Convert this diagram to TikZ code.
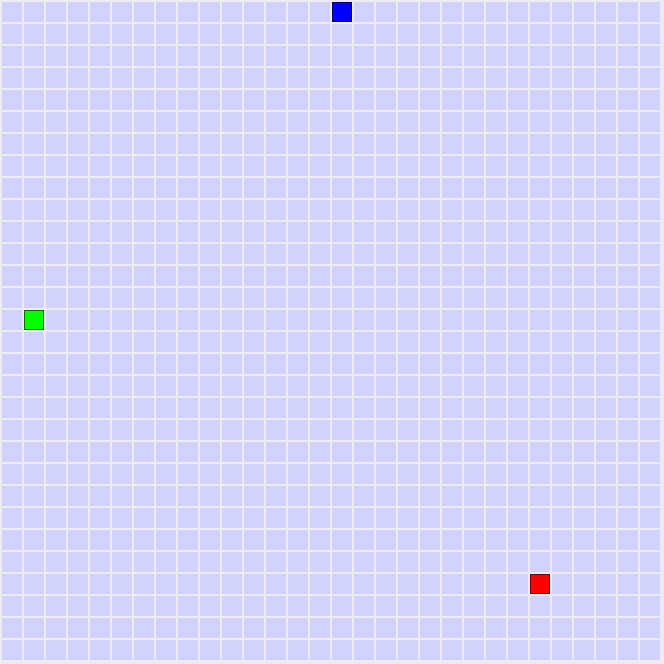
\documentclass[tikz,border=0pt]{standalone}
\definecolor{bggray}{RGB}{236,236,242}
\definecolor{cellblue}{RGB}{210,210,255}
\definecolor{bluedark}{RGB}{0,0,110}
\definecolor{greendark}{RGB}{0,110,0}
\definecolor{reddark}{RGB}{120,0,0}
\tikzset{
  cell/.style={fill=cellblue,draw=none},
  marker/.style={line width=1.2pt}
}
\begin{document}
\begin{tikzpicture}[x=1pt,y=-1pt]
\fill[bggray] (0,0) rectangle (664,664);
\useasboundingbox (0,0) rectangle (664,664);
\foreach \i in {0,...,29}{
  \foreach \j in {0,...,29}{
    \fill[cell] ({22*\i+2},{22*\j+2}) rectangle ++(20,20);
  }
}
\filldraw[marker,fill=blue,draw=bluedark] ({22*15+2.6},{22*0+2.6}) rectangle ++(18.8,18.8);
\filldraw[marker,fill=green,draw=greendark] ({22*1+2.6},{22*14+2.6}) rectangle ++(18.8,18.8);
\filldraw[marker,fill=red,draw=reddark] ({22*24+2.6},{22*26+2.6}) rectangle ++(18.8,18.8);
\end{tikzpicture}
\end{document}
